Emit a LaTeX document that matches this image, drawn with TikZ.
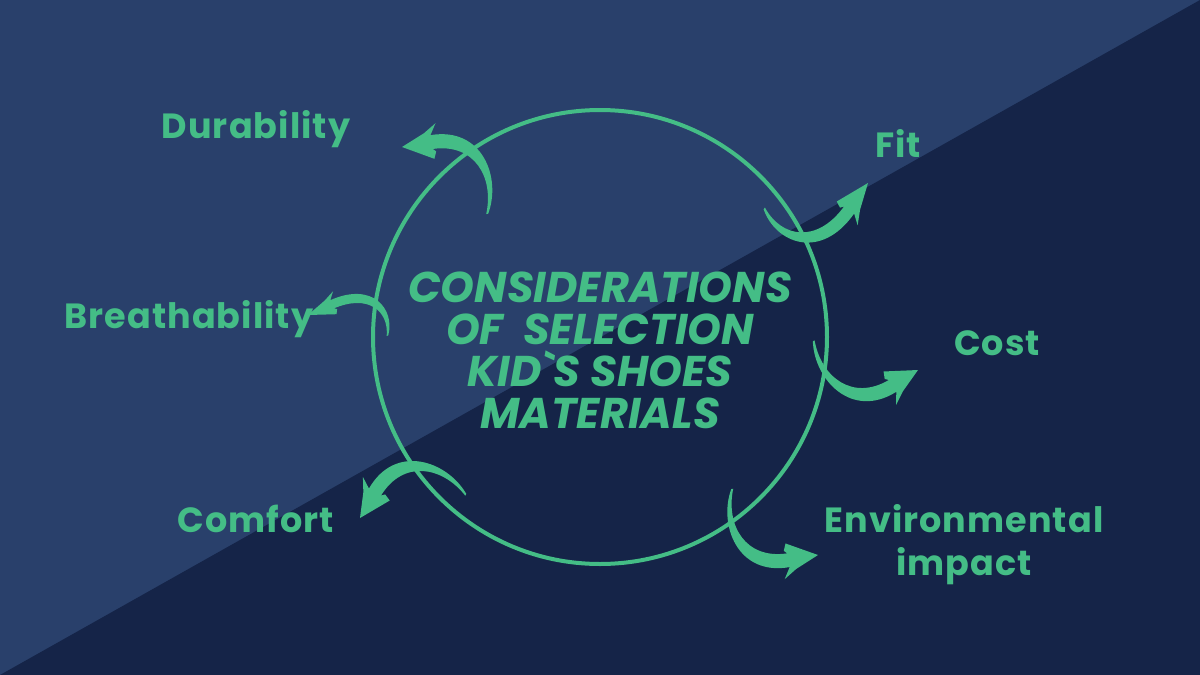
\documentclass[tikz,border=0pt]{standalone}
\usepackage{fontspec}
\setmainfont{Poppins}
\newfontfamily\ttlfont{Poppins}
\newfontfamily\labfont{Poppins}[LetterSpace=3]
\definecolor{bglight}{HTML}{29406B}
\definecolor{bgdark}{HTML}{152448}
\definecolor{mint}{HTML}{44BD86}
\tikzset{
  lab/.style={font=\labfont\fontsize{35}{43}\selectfont\bfseries, text=mint, inner sep=0pt, anchor=base, align=center},
  ttl/.style={font=\ttlfont\fontsize{43}{42}\selectfont\bfseries\itshape, text=mint, inner sep=0pt, align=center},
  brush/.pic={
    \fill[mint] (-74pt,80pt) .. controls (-93pt,47pt) and (-83pt,-7pt) .. (-30pt,-7pt)
      -- (-37pt,-18pt) -- (-24pt,-10pt) -- (0pt,0pt) -- (-30pt,17pt) -- (-33pt,10pt)
      -- (-30pt,7pt) .. controls (-72pt,8pt) and (-86pt,45pt) .. (-72pt,80pt) -- cycle;
  }
}
\begin{document}
\begin{tikzpicture}[x=1pt,y=-1pt]
\fill[bglight] (0,0) rectangle (1200,675);
\fill[bgdark] (1200,0) -- (1200,675) -- (0,675) -- cycle;
\useasboundingbox (0,0) rectangle (1200,675);
\node[circle, draw=mint, line width=4pt, minimum size=454pt, inner sep=0pt] (c) at (600,337) {};
\node[ttl] (title) at (600,350) {CONSIDERATIONS\\OF \ SELECTION\\KID`S SHOES\\MATERIALS};
\node[lab] (dur) at (256,138) {Durability};
\node[lab] (fit) at (898,157) {Fit};
\node[lab] (bre) at (189,328) {Breathability};
\node[lab] (cost) at (997,355) {Cost};
\node[lab] (com) at (256,532) {Comfort};
\node[lab] (env) at (964,575) {Environmental\\impact};
\pic (adur) [rotate=189.5] at (402,147) {brush};
\pic (afit) [rotate=55, xscale=1.1, yscale=0.88] at (868,183) {brush};
\pic (abre) [rotate=204, xscale=0.88, yscale=0.64] at (308,315) {brush};
\pic (acost) [rotate=32] at (918,370) {brush};
\pic (acom) [rotate=240] at (360,518) {brush};
\pic (aenv) [rotate=10] at (818,555) {brush};
\end{tikzpicture}
\end{document}
